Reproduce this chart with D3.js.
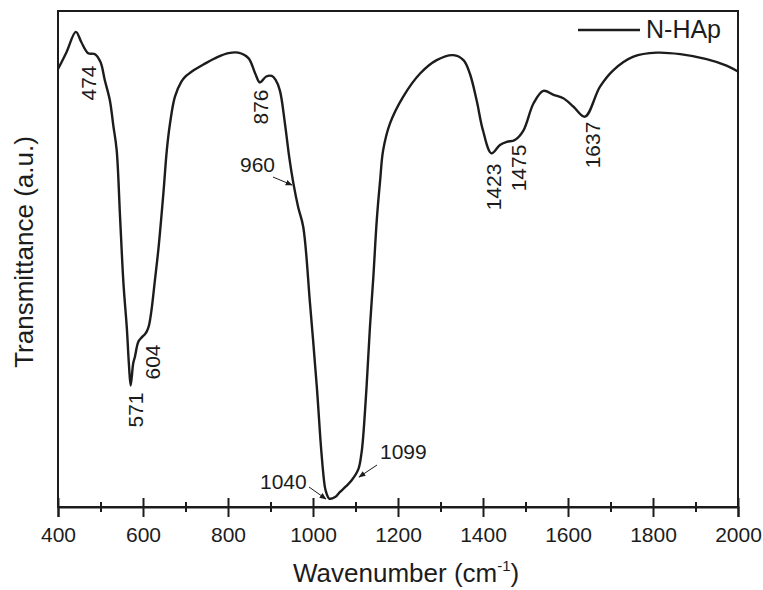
<!DOCTYPE html>
<html>
<head>
<meta charset="utf-8">
<script src="https://cdn.jsdelivr.net/npm/d3@7"></script>
<style>
  html, body { margin: 0; padding: 0; background: #fff; }
  svg { display: block; font-family: "Liberation Sans", Arial, sans-serif; }
</style>
</head>
<body>
<svg id="chart" width="763" height="590"></svg>
<script>
// ---- data ----
const wavenumber = [400, 420, 442, 455, 471, 487, 500, 510, 522, 530, 538, 546, 554, 562, 567, 571,
  577, 581, 589, 597, 605, 609, 614, 620, 628, 636, 648, 656, 663, 675, 690, 699, 720, 746, 775, 801,
  824, 848, 864, 875, 890, 903, 912, 922, 934, 944, 954, 965, 977, 993, 1009, 1020, 1028, 1032, 1038,
  1052, 1063, 1078, 1091, 1107, 1114, 1118, 1126, 1134, 1142, 1150, 1158, 1165, 1181, 1212, 1252, 1291,
  1330, 1354, 1369, 1385, 1400, 1420, 1440, 1456, 1475, 1495, 1519, 1542, 1566, 1589, 1613, 1640, 1675,
  1707, 1754, 1809, 1864, 1926, 1973, 2000];
const transmittance = [88.3, 91.7, 95.8, 93.7, 91.5, 91.3, 89.7, 86.1, 82.0, 77.0, 72.0, 58.5, 45.1, 36.0, 28.6, 24.5,
  29.0, 30.3, 33.3, 34.2, 34.9, 35.4, 36.6, 39.7, 45.7, 51.8, 63.3, 71.9, 77.0, 82.7, 85.7, 86.7, 88.1, 89.4, 90.7, 91.5,
  91.6, 90.5, 87.4, 85.6, 86.8, 86.9, 86.1, 84.0, 77.3, 70.6, 65.2, 60.5, 56.5, 41.0, 24.2, 10.8, 4.0, 2.7, 1.7,
  2.0, 3.0, 4.2, 5.4, 7.7, 10.8, 14.1, 24.2, 36.3, 46.4, 57.8, 65.9, 71.9, 77.3, 82.7, 87.4, 90.1,
  91.1, 90.1, 87.4, 82.0, 75.9, 71.3, 73.0, 73.6, 74.0, 75.9, 81.4, 83.9, 83.1, 82.4, 80.7, 78.7, 84.7,
  88.1, 90.8, 91.6, 91.3, 90.3, 89.0, 87.8];
const seriesName = "N-HAp";
const majorTicks = [400, 600, 800, 1000, 1200, 1400, 1600, 1800, 2000];
const minorTicks = [500, 700, 900, 1100, 1300, 1500, 1700, 1900];
const peakLabels = ["474", "571", "604", "876", "960", "1040", "1099", "1423", "1475", "1637"];
const xTitle = "Wavenumber (cm";
const yTitle = "Transmittance (a.u.)";

// ---- layout ----
const svg = d3.select("#chart");
const L = 58, R = 738, T = 11, B = 507;
const x = d3.scaleLinear().domain([400, 2000]).range([L, R]);
const y = d3.scaleLinear().domain([0, 100]).range([B, T]);
const ink = "#1c1c1c";

// arrow marker
svg.append("defs").append("marker")
  .attr("id", "ah").attr("viewBox", "0 0 10 10").attr("refX", 9).attr("refY", 5)
  .attr("markerWidth", 7).attr("markerHeight", 7).attr("markerUnits", "userSpaceOnUse")
  .attr("orient", "auto")
  .append("path").attr("d", "M0,1 L10,5 L0,9 Z").attr("fill", ink);

// frame
svg.append("rect").attr("x", L).attr("y", T).attr("width", R - L).attr("height", B - T)
  .attr("fill", "none").attr("stroke", ink).attr("stroke-width", 2);

// bottom axis: major ticks
const gx = svg.append("g").attr("transform", `translate(0,${B})`)
  .call(d3.axisBottom(x).tickValues(majorTicks).tickFormat(d3.format("d")).tickSize(10).tickPadding(10));
gx.select(".domain").attr("stroke", ink).attr("stroke-width", 2);
gx.selectAll(".tick line").attr("y1", -9).attr("stroke", ink).attr("stroke-width", 2);
gx.selectAll(".tick text").attr("font-size", 21).attr("fill", ink)
  .attr("font-family", "Liberation Sans, Arial, sans-serif");

// minor ticks
const gm = svg.append("g").attr("transform", `translate(0,${B})`)
  .call(d3.axisBottom(x).tickValues(minorTicks).tickFormat("").tickSize(5));
gm.select(".domain").remove();
gm.selectAll(".tick line").attr("y1", -5).attr("stroke", ink).attr("stroke-width", 2);

// axis titles
const xt = svg.append("text").attr("x", 293).attr("y", 582).attr("font-size", 26).attr("fill", ink);
xt.append("tspan").text(xTitle);
xt.append("tspan").text("-1").attr("font-size", 15).attr("dy", -11);
xt.append("tspan").text(")").attr("dy", 11);

svg.append("text").attr("transform", `translate(33,252) rotate(-90)`)
  .attr("text-anchor", "middle").attr("font-size", 26).attr("fill", ink).text(yTitle);

// spectrum
const pts = wavenumber.map((w, i) => [w, transmittance[i]]);
svg.append("path").datum(pts)
  .attr("fill", "none").attr("stroke", ink).attr("stroke-width", 2.4).attr("stroke-linejoin", "round")
  .attr("d", d3.line().x(d => x(d[0])).y(d => y(d[1])).curve(d3.curveCatmullRom.alpha(0.5)));

// legend
svg.append("line").attr("x1", 578).attr("x2", 640).attr("y1", 30).attr("y2", 30)
  .attr("stroke", ink).attr("stroke-width", 2.4);
svg.append("text").attr("x", 646).attr("y", 38).attr("font-size", 25).attr("fill", ink).text(seriesName);

// peak annotations
// rotated labels: [dx from x(wn) to baseline, centre y]
const rotatedSpec = {"474": [7, 83], "571": [12, 410], "604": [15, 362], "876": [8, 107],
  "1423": [8, 187], "1475": [11, 168], "1637": [16, 145]};
peakLabels.filter(p => rotatedSpec[p]).forEach(p => {
  const s = rotatedSpec[p];
  svg.append("text")
    .attr("transform", `translate(${x(+p) + s[0]},${s[1]}) rotate(-90)`)
    .attr("text-anchor", "middle").attr("font-size", 21).attr("fill", ink).text(p);
});
// horizontal labels with arrows
const arrowSpec = {
  "960": {tx: 240, ty: 172, from: [273, 177], to: [292, 185]},
  "1040": {tx: 260, ty: 489, from: [309, 487], to: [326, 499]},
  "1099": {tx: 380, ty: 459, from: [377, 465], to: [359, 477]}
};
peakLabels.filter(p => arrowSpec[p]).forEach(p => {
  const s = arrowSpec[p];
  svg.append("text").attr("x", s.tx).attr("y", s.ty).attr("font-size", 21).attr("fill", ink).text(p);
  svg.append("line").attr("x1", s.from[0]).attr("y1", s.from[1]).attr("x2", s.to[0]).attr("y2", s.to[1])
    .attr("stroke", ink).attr("stroke-width", 1).attr("marker-end", "url(#ah)");
});
</script>
</body>
</html>
